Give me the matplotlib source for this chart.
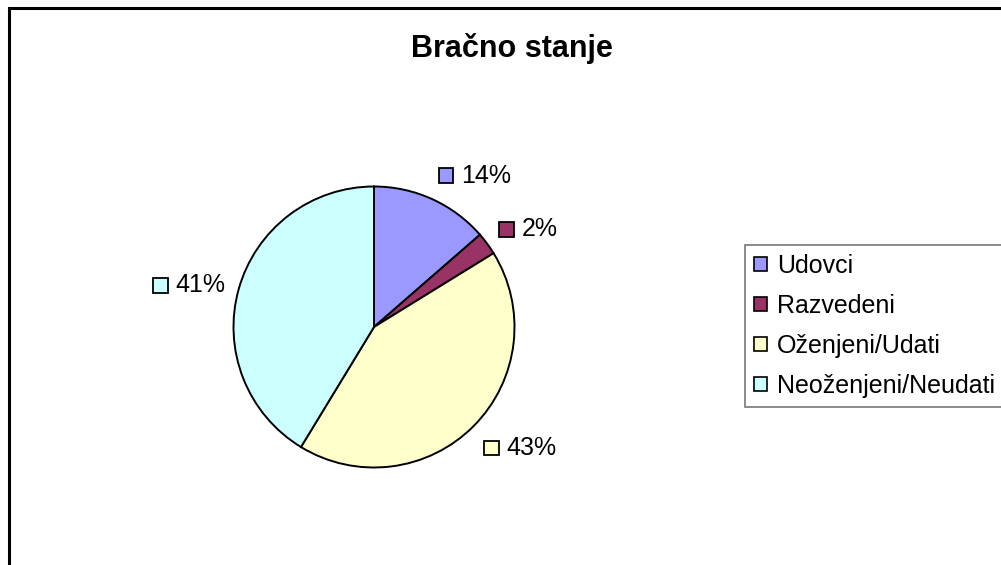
import matplotlib
matplotlib.use("Agg")
import numpy as np
import matplotlib.pyplot as plt
from matplotlib.patches import Patch, Rectangle
from matplotlib.offsetbox import AnnotationBbox, DrawingArea, TextArea, HPacker

plt.rcParams['font.family'] = ['Liberation Sans', 'DejaVu Sans']

# podaci
kategorije = ['Udovci', 'Razvedeni', 'Oženjeni/Udati', 'Neoženjeni/Neudati']
vrijednosti = [13.6, 2.6, 42.5, 41.3]
oznake = ['14%', '2%', '43%', '41%']
boje = ['#9999FF', '#993366', '#FFFFCC', '#CCFFFF']

W, H = 1001, 565
fig = plt.figure(figsize=(W / 100, H / 100), dpi=100)

# okvir grafikona (desni i donji rub izlaze van slike)
fig.patches.append(Rectangle((9 / W, -0.2), 1.5, 1.2 - 8 / H,
                             transform=fig.transFigure, fill=False,
                             edgecolor='black', linewidth=2.2))

fig.text(512 / W, 1 - 48 / H, 'Bračno stanje', ha='center', va='center',
         fontsize=22, fontweight='bold')

cx, cy, r = 374, 327, 140.5
ax = fig.add_axes([(cx - r) / W, 1 - (cy + r) / H, 2 * r / W, 2 * r / H])
wedges, _ = ax.pie(vrijednosti, colors=boje, startangle=90, counterclock=False,
                   wedgeprops=dict(edgecolor='black', linewidth=1.4))
ax.set_xlim(-1, 1)
ax.set_ylim(-1, 1)
ax.set_aspect('equal')
ax.axis('off')

for w, txt, c in zip(wedges, oznake, boje):
    th = np.deg2rad((w.theta1 + w.theta2) / 2)
    s = np.sin(th)
    xa = 0 if np.cos(th) > 0 else 1
    if s > 0.65:
        ya = 0.05
    elif s < -0.65:
        ya = 1.0
    elif s > 0.4:
        ya = 0.25
    else:
        ya = 0.5
    da = DrawingArea(11.5, 11.5, 0, 0)
    da.add_artist(Rectangle((0.5, 0.5), 10.5, 10.5, facecolor=c, edgecolor='black', linewidth=1.3))
    ta = TextArea(txt, textprops=dict(fontsize=18))
    box = HPacker(children=[da, ta], align='center', pad=0, sep=5)
    d = 1.1
    ab = AnnotationBbox(box, (d * np.cos(th), d * np.sin(th)), xycoords='data',
                        box_alignment=(xa, ya), frameon=False, pad=0,
                        annotation_clip=False)
    ax.add_artist(ab)

handles = [Patch(facecolor=c, edgecolor='black', linewidth=1.2) for c in boje]
leg = fig.legend(handles, kategorije, loc='upper left',
                 bbox_to_anchor=(745 / W, 1 - 245 / H), fontsize=18,
                 frameon=True, fancybox=False, edgecolor='#555555',
                 handlelength=0.52, handleheight=0.52, handletextpad=0.4,
                 labelspacing=0.64, borderpad=0.36, borderaxespad=0)
leg.get_frame().set_linewidth(1.2)

fig.savefig('out.png', dpi=100)
